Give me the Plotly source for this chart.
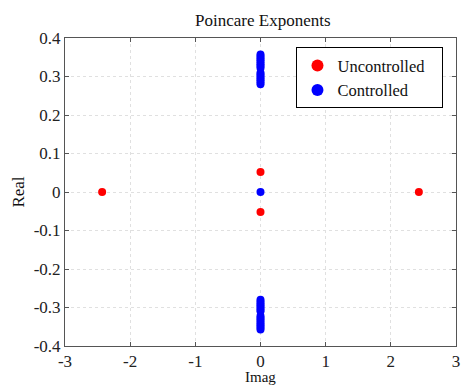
import plotly.graph_objects as go

unc_imag = [-2.43, 2.43, 0.0, 0.0]
unc_real = [0.0, 0.0, 0.052, -0.052]

ctl_top = [0.280, 0.285, 0.290, 0.295, 0.300, 0.305, 0.310, 0.322, 0.327, 0.332, 0.337, 0.342, 0.347, 0.352, 0.357]
ctl_real = [0.0] + ctl_top + [-v for v in ctl_top]
ctl_imag = [0.0] * len(ctl_real)

x_ticks = [-3, -2, -1, 0, 1, 2, 3]
x_labels = ["-3", "-2", "-1", "0", "1", "2", "3"]
y_ticks = [-0.4, -0.3, -0.2, -0.1, 0, 0.1, 0.2, 0.3, 0.4]
y_labels = ["-0.4", "-0.3", "-0.2", "-0.1", "0", "0.1", "0.2", "0.3", "0.4"]

font = "Liberation Serif, Times New Roman, serif"
pad = "\u00a0" * 3

fig = go.Figure()
fig.add_trace(go.Scatter(x=unc_imag, y=unc_real, mode="markers", name="Uncontrolled" + pad,
                         marker=dict(color="#ff0000", size=8)))
fig.add_trace(go.Scatter(x=ctl_imag, y=ctl_real, mode="markers", name="Controlled",
                         marker=dict(color="#0000ff", size=8)))

axis_common = dict(showgrid=True, gridcolor="#e0e0e0", griddash="dot", gridwidth=1,
                   zeroline=False, showline=True, linecolor="#555555", linewidth=1,
                   mirror="ticks", ticks="inside", ticklen=4, tickcolor="#555555",
                   automargin=False, ticklabeloverflow="allow",
                   tickfont=dict(family=font, size=17, color="#222222"))

fig.update_layout(
    width=461, height=385,
    margin=dict(l=65, r=5, t=38, b=39),
    paper_bgcolor="white", plot_bgcolor="white",
    title=dict(text="Poincare Exponents", x=0.57, xanchor="center", y=0.947, yanchor="middle",
               font=dict(family=font, size=17, color="#111111")),
    xaxis=dict(range=[-3, 3], tickvals=x_ticks, ticktext=x_labels, **axis_common),
    yaxis=dict(range=[-0.4, 0.4], tickvals=y_ticks, ticktext=y_labels,
               title=dict(text="Real", standoff=4, font=dict(family=font, size=17, color="#111111")),
               **axis_common),
    showlegend=True,
    legend=dict(x=0.592, y=0.97, xanchor="left", yanchor="top", bordercolor="#000000", borderwidth=1,
                bgcolor="white", font=dict(family=font, size=16.5, color="#111111"),
                itemsizing="constant"),
    annotations=[dict(text="Imag", xref="paper", yref="paper", x=0.5, y=-0.067,
                      xanchor="center", yanchor="top", showarrow=False,
                      font=dict(family=font, size=15, color="#111111"))],
)

fig.write_html("out.html")
